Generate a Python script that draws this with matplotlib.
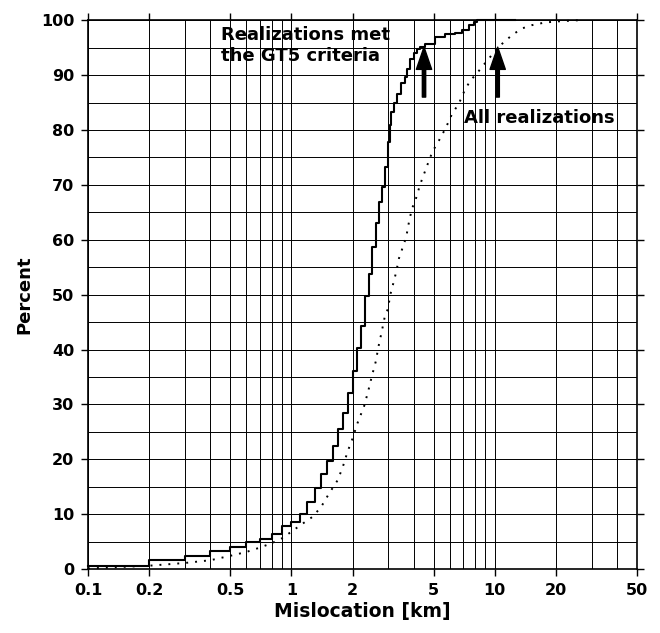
import matplotlib
matplotlib.use('Agg')
import matplotlib.pyplot as plt
from matplotlib.ticker import FixedLocator, NullFormatter

plt.rcParams['font.family'] = ['DejaVu Sans']
plt.rcParams['font.weight'] = 'bold'

# Cumulative distribution of mislocation, realizations meeting GT5 criteria (step curve)
gt5_km = [0.1, 0.2, 0.3, 0.4, 0.5, 0.6, 0.7, 0.8, 0.9, 1.0,
          1.1, 1.2, 1.3, 1.4, 1.5, 1.6, 1.7, 1.8, 1.9, 2.0,
          2.1, 2.2, 2.3, 2.4, 2.5, 2.6, 2.7, 2.8, 2.9, 3.0,
          3.05, 3.1, 3.2, 3.3, 3.45, 3.6, 3.7, 3.85, 4.0, 4.15,
          4.3, 4.55, 5.1, 5.7, 6.4, 6.9, 7.5, 7.9, 8.2, 12.6]
gt5_pct = [0.6, 1.6, 2.4, 3.3, 4.1, 4.9, 5.5, 6.3, 7.8, 8.5,
           10.0, 12.2, 14.8, 17.4, 19.6, 22.4, 25.6, 28.4, 32.1, 36.1,
           40.3, 44.3, 49.7, 53.8, 58.7, 63.0, 66.8, 69.6, 73.3, 77.8,
           81.0, 83.3, 85.0, 86.5, 88.5, 89.7, 91.2, 93.0, 94.1, 94.8,
           95.1, 95.7, 97.0, 97.5, 97.7, 98.2, 99.2, 99.7, 100.0, 100.0]

# All realizations (dotted curve)
all_km = [0.1, 0.2, 0.3, 0.4, 0.5, 0.6, 0.7, 0.8, 0.9, 1.0,
          1.15, 1.27, 1.40, 1.535, 1.69, 1.79, 1.89, 2.0, 2.11, 2.28,
          2.39, 2.49, 2.60, 2.68, 2.78, 2.88, 2.99, 3.06, 3.20, 3.28,
          3.38, 3.49, 3.58, 3.67, 3.79, 3.87, 3.96, 4.08, 4.18, 4.27,
          4.66, 4.93, 5.32, 5.73, 6.18, 6.66, 7.05, 7.60, 8.04, 8.66,
          9.35, 10.08, 10.86, 12.16, 13.6, 15.2, 17.7, 20.6, 25.8]
all_pct = [0.1, 0.6, 1.1, 1.6, 2.4, 3.1, 3.9, 4.7, 5.6, 6.8,
           8.4, 9.5, 11.3, 13.8, 16.2, 18.6, 21.4, 23.8, 26.5, 29.7,
           32.5, 35.2, 37.8, 40.5, 43.2, 46.0, 47.5, 49.9, 52.6, 54.2,
           56.6, 58.1, 59.3, 60.5, 63.3, 64.8, 66.1, 67.3, 68.5, 69.8,
           73.6, 76.0, 78.1, 80.3, 83.0, 84.8, 86.9, 89.1, 90.0, 91.5,
           93.0, 94.5, 95.7, 97.3, 98.5, 99.1, 99.6, 99.8, 100.0]

x_ticks = [0.1, 0.2, 0.5, 1, 2, 5, 10, 20, 50]
x_tick_labels = ['0.1', '0.2', '0.5', '1', '2', '5', '10', '20', '50']
x_grid = [0.1, 0.2, 0.3, 0.4, 0.5, 0.6, 0.7, 0.8, 0.9,
          1, 2, 3, 4, 5, 6, 7, 8, 9, 10, 20, 30, 40, 50]
y_ticks = list(range(0, 101, 10))
y_grid = list(range(0, 101, 5))

fig = plt.figure(figsize=(6.6, 6.33), dpi=100)
ax = fig.add_axes([0.1333, 0.1011, 0.8317, 0.8669])

ax.set_xscale('log')
ax.set_xlim(0.1, 50)
ax.set_ylim(0, 100)

# grid lines
for gx in x_grid:
    ax.axvline(gx, color='black', lw=0.7, zorder=1)
for gy in y_grid:
    ax.axhline(gy, color='black', lw=0.7, zorder=1)

ax.plot(gt5_km, gt5_pct, drawstyle='steps-post', color='black', lw=1.5,
        zorder=3, clip_on=False)
ax.plot(all_km, all_pct, color='black', lw=1.4, linestyle=(0, (1, 3.6)),
        zorder=3, clip_on=False)

ax.xaxis.set_major_locator(FixedLocator(x_ticks))
ax.xaxis.set_minor_locator(FixedLocator([]))
ax.xaxis.set_minor_formatter(NullFormatter())
ax.set_xticklabels(x_tick_labels)
ax.set_yticks(y_ticks)

ax.tick_params(axis='both', which='major', direction='out', length=5, width=1,
               labelsize=11.5, top=True, right=True, pad=5)
for sp in ax.spines.values():
    sp.set_linewidth(1.2)

ax.set_xlabel('Mislocation [km]', fontsize=13.5, fontweight='bold', labelpad=3)
ax.set_ylabel('Percent', fontsize=13, fontweight='bold', labelpad=5)

ax.text(0.45, 95.4, 'Realizations met\nthe GT5 criteria', fontsize=13,
        fontweight='bold', ha='left', va='center', linespacing=1.2, zorder=4)
ax.text(7.05, 82.1, 'All realizations', fontsize=13, fontweight='bold',
        ha='left', va='center', zorder=4)

arrow_kw = dict(facecolor='black', edgecolor='black', width=2.4,
                headwidth=11, headlength=16, shrink=0)
ax.annotate('', xy=(4.49, 95.1), xytext=(4.49, 86.0), arrowprops=arrow_kw)
ax.annotate('', xy=(10.34, 95.1), xytext=(10.34, 86.0), arrowprops=arrow_kw)

fig.savefig('out.png', dpi=100)
